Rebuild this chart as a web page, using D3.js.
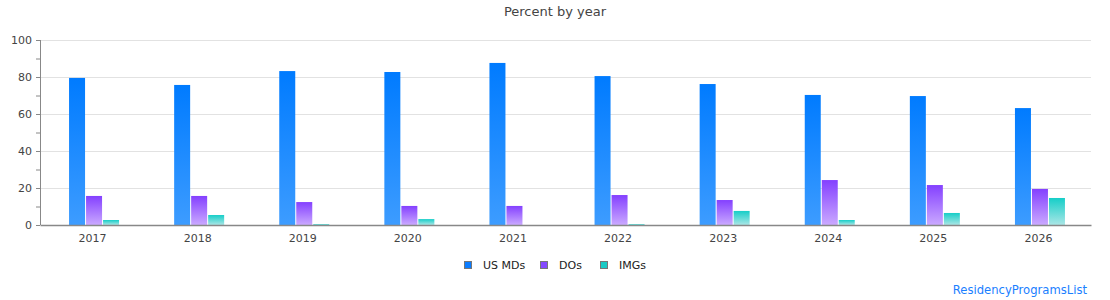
<!DOCTYPE html>
<html>
<head>
<meta charset="utf-8">
<script src="https://cdn.jsdelivr.net/npm/d3@7"></script>
<style>
  body { margin: 0; background: #fff; }
  text { font-family: "DejaVu Sans", sans-serif; }
</style>
</head>
<body>
<div id="chart"></div>
<script>
// Data
const years = ["2017", "2018", "2019", "2020", "2021", "2022", "2023", "2024", "2025", "2026"];
const usMDs = [79.5, 75.7, 83.2, 82.7, 87.6, 80.5, 76.2, 70.3, 69.7, 63.2];
const dOs   = [15.7, 15.7, 12.4, 10.3, 10.3, 16.2, 13.5, 24.3, 21.6, 19.5];
const imgs  = [2.7, 5.4, 0.5, 3.2, 0, 0.5, 7.6, 2.7, 6.5, 14.6];
const seriesNames = ["US MDs", "DOs", "IMGs"];
const yTicks = [0, 20, 40, 60, 80, 100];

const series = [
  { name: seriesNames[0], values: usMDs, top: "#007bff", bottom: "#3d9cff", key: "#0a7cff" },
  { name: seriesNames[1], values: dOs,   top: "#8440ff", bottom: "#caa9ff", key: "#8448ff" },
  { name: seriesNames[2], values: imgs,  top: "#16cec8", bottom: "#aae6e6", key: "#19cbc6" }
];

const W = 1110, H = 300;
const margin = { top: 40, right: 19, bottom: 75, left: 40 };
const width = W - margin.left - margin.right;
const height = H - margin.top - margin.bottom;

const svg = d3.select("#chart").append("svg")
  .attr("width", W).attr("height", H);

// gradients, one per series
const defs = svg.append("defs");
series.forEach(function(s, i) {
  const g = defs.append("linearGradient")
    .attr("id", "grad" + i)
    .attr("x1", 0).attr("y1", 0).attr("x2", 0).attr("y2", 1);
  g.append("stop").attr("offset", "0%").attr("stop-color", s.top);
  g.append("stop").attr("offset", "100%").attr("stop-color", s.bottom);
});

// title
svg.append("text")
  .attr("x", 555).attr("y", 16)
  .attr("text-anchor", "middle")
  .style("font-size", "13px").style("fill", "#444")
  .text("Percent by year");

const g = svg.append("g")
  .attr("transform", "translate(" + margin.left + "," + margin.top + ")");

const x = d3.scaleBand().domain(years).range([0, width]);
const y = d3.scaleLinear().domain([0, 100]).range([height, 0]);

// grid lines
g.append("g").selectAll("line")
  .data(yTicks.filter(d => d > 0))
  .enter().append("line")
  .attr("x1", 0).attr("x2", width)
  .attr("y1", d => Math.round(y(d)) + 0.5).attr("y2", d => Math.round(y(d)) + 0.5)
  .attr("stroke", "#e2e2e2");

// bars
const barW = 16, barStep = 17;
series.forEach(function(s, i) {
  g.append("g").selectAll("rect")
    .data(s.values)
    .enter().append("rect")
    .attr("x", (d, j) => x(years[j]) + x.bandwidth() / 2 - 23.5 + i * barStep)
    .attr("y", d => y(d))
    .attr("width", barW)
    .attr("height", d => height - y(d))
    .attr("fill", "url(#grad" + i + ")");
});

// y axis
const yAxis = d3.axisLeft(y)
  .tickValues(d3.range(0, 101, 10))
  .tickSize(4)
  .tickFormat(d => d % 20 === 0 ? d : "");
const ya = g.append("g").attr("class", "y axis").call(yAxis);
ya.select(".domain").attr("stroke", "#888").attr("d", "M0.5,0V" + height);
ya.selectAll(".tick line").attr("stroke", "#888");
ya.selectAll(".tick text")
  .attr("x", -8)
  .style("font-size", "11px").style("fill", "#444")
  .style("font-family", "DejaVu Sans, sans-serif");

// x axis
const xAxis = d3.axisBottom(x).tickSize(0).tickPadding(9);
const xa = g.append("g").attr("transform", "translate(0," + height + ")").call(xAxis);
xa.select(".domain").attr("stroke", "#888").attr("stroke-width", 1.5);
xa.selectAll(".tick text")
  .style("font-size", "11px").style("fill", "#444")
  .style("font-family", "DejaVu Sans, sans-serif");

// legend
const legendX = [464, 540, 600];
const legend = svg.append("g").selectAll("g")
  .data(series)
  .enter().append("g")
  .attr("transform", (d, i) => "translate(" + legendX[i] + ",261)");
legend.append("rect")
  .attr("x", 0.5).attr("y", 0.5)
  .attr("width", 7).attr("height", 7)
  .attr("fill", d => d.key)
  .attr("stroke", "#777").attr("stroke-width", 1);
legend.append("text")
  .attr("x", 19).attr("y", 8)
  .style("font-size", "11px").style("fill", "#222")
  .text(d => d.name);

// watermark
svg.append("text")
  .attr("x", 1087).attr("y", 294)
  .attr("text-anchor", "end")
  .style("font-size", "11.6px").style("fill", "#1a80ff")
  .text("ResidencyProgramsList");
</script>
</body>
</html>
